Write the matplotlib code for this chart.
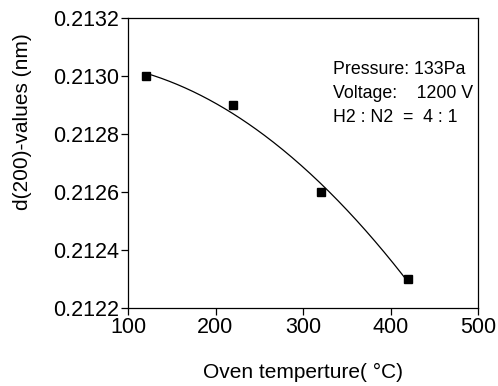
import numpy as np
import matplotlib
matplotlib.use("Agg")
import matplotlib.pyplot as plt

plt.rcParams['font.family'] = ['Liberation Sans', 'DejaVu Sans']

temperature = [120, 220, 320, 420]
d_values = [0.2130, 0.2129, 0.2126, 0.2123]
x_ticks = [100, 200, 300, 400, 500]
y_ticks = [0.2122, 0.2124, 0.2126, 0.2128, 0.2130, 0.2132]
notes = ["Pressure: 133Pa", "Voltage:    1200 V", "H2 : N2  =  4 : 1"]

fig = plt.figure(figsize=(4.98, 3.86), dpi=100)
W, H = 498, 386
ax = fig.add_axes([128 / W, 1 - 308 / H, 350 / W, 290 / H])

# quadratic fit curve through the data
coef = np.polyfit(temperature, d_values, 2)
xs = np.linspace(temperature[0], temperature[-1], 200)
ax.plot(xs, np.polyval(coef, xs), color='black', lw=0.9)
ax.plot(temperature, d_values, 's', color='black', ms=5.2)

ax.set_xlim(100, 500)
ax.set_ylim(0.2122, 0.2132)
ax.set_xticks(x_ticks)
ax.set_yticks(y_ticks)
ax.set_xticklabels([str(v) for v in x_ticks])
ax.set_yticklabels([f"{v:.4f}" for v in y_ticks])
ax.tick_params(direction='out', length=5, width=0.9, labelsize=15.5, pad=1.5)
ax.tick_params(top=False, right=False)
for s in ax.spines.values():
    s.set_linewidth(0.9)

ax.set_xlabel("Oven temperture( \u00b0C)", fontsize=15)
ax.xaxis.set_label_coords(0.5, -(372 - 308) / 290, transform=ax.transAxes)
ax.xaxis.label.set_va('center')
ax.set_ylabel("d(200)-values (nm)", fontsize=15)
ax.yaxis.set_label_coords((23 - 128) / 350, (308 - 122) / 290, transform=ax.transAxes)
ax.yaxis.label.set_va('center')

for i, t in enumerate(notes):
    ax.text((333 - 128) / 350, (308 - (70 + 24 * i)) / 290, t,
            transform=ax.transAxes, fontsize=12.8, va='center', ha='left')

fig.savefig("out.png", dpi=100)
